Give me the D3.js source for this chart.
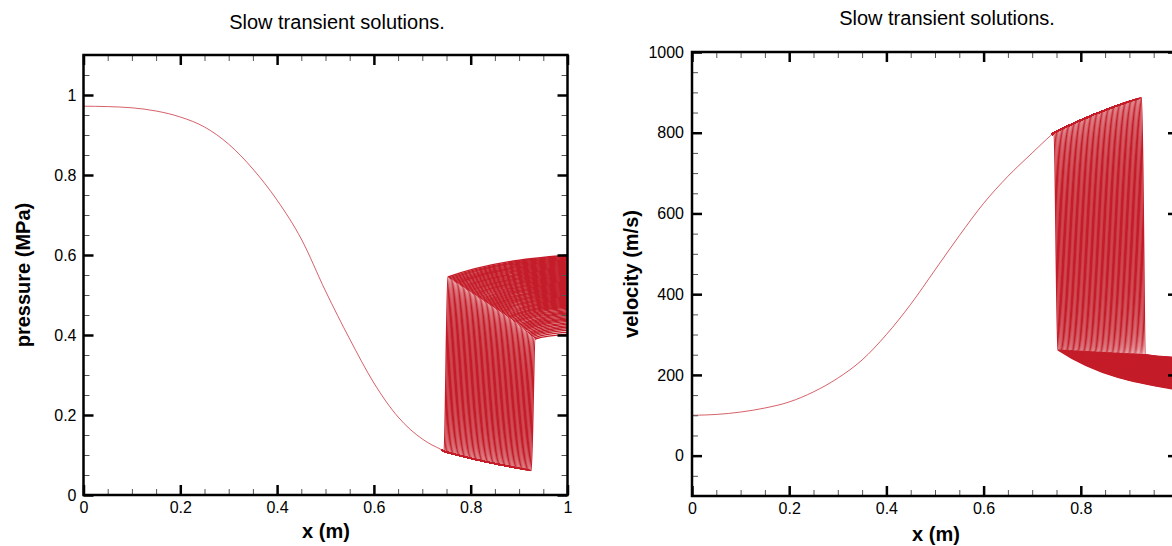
<!DOCTYPE html>
<html>
<head>
<meta charset="utf-8">
<script src="https://cdn.jsdelivr.net/npm/d3@7/dist/d3.min.js"></script>
<style>
  html, body { margin: 0; padding: 0; background: #fff; }
  svg { display: block; font-family: "Liberation Sans", Arial, Helvetica, sans-serif; }
  .minor line { stroke: #555; stroke-width: 1; }
  .major line { stroke: #000; stroke-width: 2.5; }
  .tick text { fill: #000; font-size: 16px; }
</style>
</head>
<body>
<svg id="chart" width="1172" height="546"></svg>
<script>
// Steady upstream (supersonic) profile along the nozzle
const xUp = [0, 0.05, 0.1, 0.15, 0.2, 0.25, 0.3, 0.35, 0.4, 0.45, 0.5, 0.55, 0.6, 0.65, 0.7, 0.72, 0.74,
  0.745, 0.7475, 0.75, 0.7525, 0.755, 0.7575, 0.76, 0.7625, 0.765, 0.7675,
  0.77, 0.7725, 0.775, 0.7775, 0.78, 0.7825, 0.785, 0.7875, 0.79, 0.7925,
  0.795, 0.7975, 0.8, 0.8025, 0.805, 0.8075, 0.81, 0.8125, 0.815, 0.8175,
  0.82, 0.8225, 0.825, 0.8275, 0.83, 0.8325, 0.835, 0.8375, 0.84, 0.8425,
  0.845, 0.8475, 0.85, 0.8525, 0.855, 0.8575, 0.86, 0.8625, 0.865, 0.8675,
  0.87, 0.8725, 0.875, 0.8775, 0.88, 0.8825, 0.885, 0.8875, 0.89, 0.8925,
  0.895, 0.8975, 0.9, 0.9025, 0.905, 0.9075, 0.91, 0.9125, 0.915, 0.9175,
  0.92, 0.9225, 0.925];
const pUp = [0.972, 0.971, 0.968, 0.96, 0.945, 0.92, 0.877, 0.815, 0.737, 0.64, 0.51, 0.39, 0.28, 0.195, 0.14, 0.125, 0.113,
  0.1090, 0.1081, 0.1073, 0.1064, 0.1056, 0.1048, 0.1040, 0.1032, 0.1024, 0.1016,
  0.1008, 0.1000, 0.0992, 0.0985, 0.0977, 0.0970, 0.0962, 0.0955, 0.0947, 0.0940,
  0.0932, 0.0925, 0.0918, 0.0911, 0.0904, 0.0897, 0.0890, 0.0883, 0.0876, 0.0869,
  0.0862, 0.0855, 0.0849, 0.0842, 0.0836, 0.0829, 0.0823, 0.0816, 0.0810, 0.0803,
  0.0797, 0.0790, 0.0784, 0.0778, 0.0772, 0.0766, 0.0760, 0.0754, 0.0748, 0.0742,
  0.0736, 0.0730, 0.0724, 0.0718, 0.0712, 0.0706, 0.0700, 0.0694, 0.0689, 0.0683,
  0.0678, 0.0672, 0.0667, 0.0661, 0.0656, 0.0650, 0.0645, 0.0639, 0.0634, 0.0628,
  0.0623, 0.0617, 0.0612];
const uUp = [100, 102, 108, 118, 133, 158, 192, 237, 300, 375, 460, 545, 625, 692, 750, 773, 795,
  800, 801.5, 803, 804.5, 806, 807.4, 808.9, 810.3, 811.8, 813.2,
  814.7, 816.1, 817.5, 818.9, 820.3, 821.7, 823.1, 824.4, 825.8, 827.1,
  828.5, 829.8, 831.2, 832.5, 833.8, 835.1, 836.4, 837.7, 839.0, 840.2,
  841.5, 842.7, 844.0, 845.2, 846.5, 847.7, 848.9, 850.1, 851.3, 852.5,
  853.7, 854.8, 856.0, 857.1, 858.3, 859.4, 860.6, 861.7, 862.8, 863.9,
  865.0, 866.1, 867.2, 868.2, 869.3, 870.3, 871.4, 872.4, 873.5, 874.5,
  875.5, 876.5, 877.5, 878.5, 879.5, 880.4, 881.4, 882.3, 883.3, 884.2,
  885.2, 886.1, 887.0];

// Transient snapshots: the shock sits at each point of the supersonic zone in turn
const zoneStart = 0.74;
const shockX = xUp.filter(v => v >= 0.745);
// state just behind the shock and at the outlet, one entry per snapshot
const pPost = [0.545, 0.543, 0.541, 0.539, 0.537, 0.535, 0.533, 0.531, 0.529, 0.527,
  0.525, 0.523, 0.521, 0.519, 0.517, 0.515, 0.513, 0.511, 0.509, 0.507,
  0.505, 0.503, 0.501, 0.499, 0.497, 0.495, 0.493, 0.491, 0.489, 0.487,
  0.485, 0.483, 0.481, 0.479, 0.477, 0.475, 0.473, 0.471, 0.469, 0.467,
  0.465, 0.463, 0.461, 0.459, 0.457, 0.455, 0.453, 0.451, 0.449, 0.447,
  0.445, 0.443, 0.441, 0.4385, 0.436, 0.434, 0.432, 0.4295, 0.427, 0.4245,
  0.422, 0.4195, 0.417, 0.4145, 0.412, 0.409, 0.406, 0.4035, 0.401, 0.3985,
  0.396, 0.393, 0.390];
const pOut = [0.600, 0.5975, 0.595, 0.5925, 0.590, 0.5875, 0.585, 0.5825, 0.580, 0.5775,
  0.575, 0.5725, 0.570, 0.5675, 0.565, 0.5625, 0.560, 0.5575, 0.555, 0.5525,
  0.550, 0.5475, 0.545, 0.5425, 0.540, 0.5375, 0.535, 0.5325, 0.530, 0.5275,
  0.525, 0.5225, 0.520, 0.5175, 0.515, 0.5125, 0.510, 0.5075, 0.505, 0.5025,
  0.500, 0.4975, 0.495, 0.4925, 0.490, 0.4875, 0.485, 0.4825, 0.480, 0.4775,
  0.475, 0.4725, 0.470, 0.467, 0.464, 0.461, 0.458, 0.455, 0.452, 0.449,
  0.446, 0.443, 0.440, 0.437, 0.434, 0.4305, 0.427, 0.4235, 0.420, 0.416,
  0.412, 0.407, 0.402];
const uPost = [262, 261.8, 261.7, 261.5, 261.3, 261.2, 261, 260.8, 260.7, 260.5,
  260.3, 260.2, 260, 259.8, 259.7, 259.5, 259.3, 259.2, 259, 258.8,
  258.7, 258.5, 258.3, 258.2, 258, 257.8, 257.7, 257.5, 257.3, 257.2,
  257, 256.8, 256.7, 256.5, 256.3, 256.2, 256, 255.8, 255.7, 255.5,
  255.3, 255.2, 255, 254.8, 254.7, 254.5, 254.3, 254.2, 254, 253.8,
  253.7, 253.5, 253.3, 253.2, 253, 252.8, 252.7, 252.5, 252.3, 252.2,
  252, 251.8, 251.7, 251.5, 251.3, 251.2, 251, 250.8, 250.7, 250.5,
  250.3, 250.2, 250];
const uOut = [163, 164, 165, 166, 167, 168.2, 169.5, 170.8, 172, 173,
  174, 175.2, 176.5, 177.8, 179, 180, 181, 182.2, 183.5, 184.8,
  186, 187, 188, 189.2, 190.5, 191.8, 193, 194, 195, 196.2,
  197.5, 198.8, 200, 201, 202, 203.2, 204.5, 205.8, 207, 208,
  209, 210.2, 211.5, 212.8, 214, 215, 216, 217.2, 218.5, 219.8,
  221, 222, 223, 224.2, 225.5, 226.8, 228, 229, 230, 231,
  232, 233, 234, 235, 236, 237, 238, 239, 240, 240.8,
  241.5, 242.2, 243];
const shockWidth = 0.008;

// Axis ticks and labels
const xTicks = [0, 0.2, 0.4, 0.6, 0.8, 1];
const xTicksRight = [0, 0.2, 0.4, 0.6, 0.8];
const xMinor = [0.05, 0.1, 0.15, 0.25, 0.3, 0.35, 0.45, 0.5, 0.55, 0.65, 0.7, 0.75, 0.85, 0.9, 0.95];
const pTicks = [0, 0.2, 0.4, 0.6, 0.8, 1];
const pMinor = [0.05, 0.1, 0.15, 0.25, 0.3, 0.35, 0.45, 0.5, 0.55, 0.65, 0.7, 0.75, 0.85, 0.9, 0.95, 1.05];
const uTicks = [0, 200, 400, 600, 800, 1000];
const uMinor = [-50, 50, 100, 150, 250, 300, 350, 450, 500, 550, 650, 700, 750, 850, 900, 950];
const titleText = "Slow transient solutions.";
const xLabel = "x (m)";
const pLabel = "pressure (MPa)";
const uLabel = "velocity (m/s)";

const red = "#c41d29";
const svg = d3.select("#chart");

function panel(cfg) {
  const x = d3.scaleLinear().domain([0, 1]).range([cfg.left, cfg.right]);
  const y = d3.scaleLinear().domain(cfg.yDomain).range([cfg.bottom, cfg.top]);
  const g = svg.append("g");
  const line = d3.line().x(d => x(d[0])).y(d => y(d[1])).curve(d3.curveMonotoneX);

  const up = xUp.map((v, i) => [v, cfg.yUp[i]]);
  // single steady branch up to the first shock location
  g.append("path")
    .attr("d", line(up.filter(d => d[0] <= shockX[0])))
    .attr("fill", "none").attr("stroke", red).attr("stroke-width", 0.7);

  // one curve per transient snapshot
  shockX.forEach((xs, i) => {
    const pts = up.filter(d => d[0] >= zoneStart && d[0] <= xs + 1e-9);
    pts.push([xs + shockWidth, cfg.post[i]]);
    pts.push([1, cfg.out[i]]);
    g.append("path")
      .attr("d", line(pts))
      .attr("fill", "none").attr("stroke", red).attr("stroke-width", 1.35);
  });

  // minor ticks on all four sides
  [[d3.axisBottom(x), cfg.bottom], [d3.axisTop(x), cfg.top]].forEach(([ax, pos]) => {
    g.append("g").attr("class", "minor").attr("transform", `translate(0,${pos})`)
      .call(ax.tickValues(xMinor).tickSize(-6).tickSizeOuter(0).tickFormat(""))
      .call(s => s.select(".domain").remove());
  });
  const yMinorVals = cfg.yMinor.filter(v => v > cfg.yDomain[0] && v < cfg.yDomain[1]);
  [[d3.axisLeft(y), cfg.left], [d3.axisRight(y), cfg.right]].forEach(([ax, pos]) => {
    g.append("g").attr("class", "minor").attr("transform", `translate(${pos},0)`)
      .call(ax.tickValues(yMinorVals).tickSize(-6).tickSizeOuter(0).tickFormat(""))
      .call(s => s.select(".domain").remove());
  });

  // major ticks, labelled on bottom and left
  g.append("g").attr("class", "major").attr("transform", `translate(0,${cfg.bottom})`)
    .call(d3.axisBottom(x).tickValues(cfg.xTicks).tickSize(-10).tickSizeOuter(0).tickPadding(7).tickFormat(d3.format("")))
    .call(s => s.select(".domain").remove());
  g.append("g").attr("class", "major").attr("transform", `translate(0,${cfg.top})`)
    .call(d3.axisTop(x).tickValues(xTicks).tickSize(-10).tickSizeOuter(0).tickFormat(""))
    .call(s => s.select(".domain").remove());
  g.append("g").attr("class", "major").attr("transform", `translate(${cfg.left},0)`)
    .call(d3.axisLeft(y).tickValues(cfg.yTicks).tickSize(-10).tickSizeOuter(0).tickPadding(cfg.yPad).tickFormat(d3.format("")))
    .call(s => s.select(".domain").remove());
  g.append("g").attr("class", "major").attr("transform", `translate(${cfg.right},0)`)
    .call(d3.axisRight(y).tickValues(cfg.yTicks).tickSize(-10).tickSizeOuter(0).tickFormat(""))
    .call(s => s.select(".domain").remove());

  // frame
  g.append("rect")
    .attr("x", cfg.left).attr("y", cfg.top)
    .attr("width", cfg.right - cfg.left).attr("height", cfg.bottom - cfg.top)
    .attr("fill", "none").attr("stroke", "#000").attr("stroke-width", 2.5);

  // texts
  g.append("text").attr("x", cfg.titleX).attr("y", cfg.titleY)
    .attr("text-anchor", "middle").attr("font-size", 20).text(titleText);
  g.append("text").attr("x", cfg.xLabelX).attr("y", cfg.xLabelY)
    .attr("text-anchor", "middle").attr("font-size", 20).attr("font-weight", "bold").text(xLabel);
  g.append("text")
    .attr("transform", `translate(${cfg.yLabelX},${(cfg.top + cfg.bottom) / 2}) rotate(-90)`)
    .attr("text-anchor", "middle").attr("font-size", 20).attr("font-weight", "bold").text(cfg.yLabel);
}

panel({
  left: 83.5, right: 567.5, top: 55, bottom: 495,
  yDomain: [0, 1.1], yTicks: pTicks, yMinor: pMinor, yPad: 7, xTicks: xTicks,
  yUp: pUp, post: pPost, out: pOut,
  titleX: 337, titleY: 29, xLabelX: 326, xLabelY: 538, yLabelX: 30, yLabel: pLabel
});

panel({
  left: 692, right: 1178, top: 52, bottom: 496,
  yDomain: [-100, 1000], yTicks: uTicks, yMinor: uMinor, yPad: 8, xTicks: xTicksRight,
  yUp: uUp, post: uPost, out: uOut,
  titleX: 947, titleY: 25, xLabelX: 936, xLabelY: 541, yLabelX: 638, yLabel: uLabel
});
</script>
</body>
</html>
